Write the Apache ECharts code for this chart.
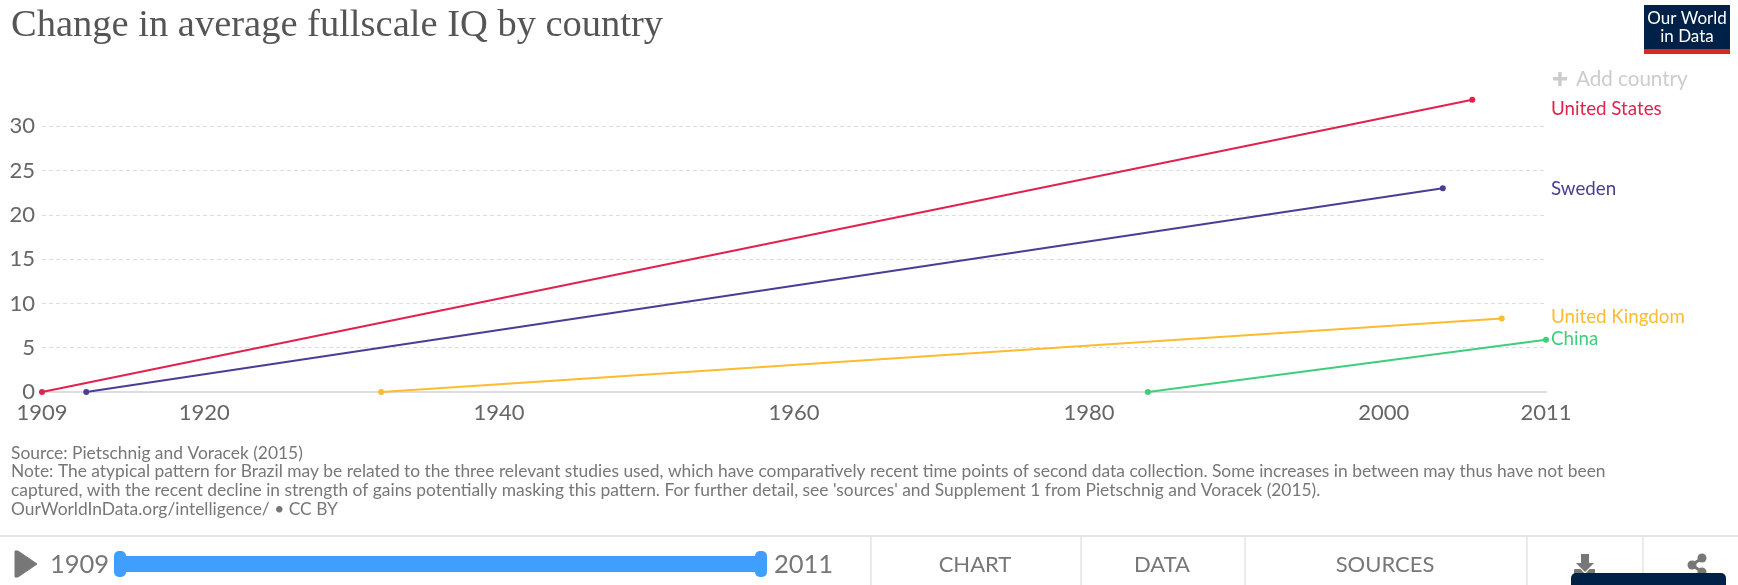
<!DOCTYPE html>
<html>
<head>
<meta charset="utf-8">
<title>Change in average fullscale IQ by country</title>
<script src="https://cdn.jsdelivr.net/npm/echarts@6/dist/echarts.min.js"></script>
<style>
  html, body { margin: 0; padding: 0; background: #fff; }
  #chart { width: 1738px; height: 585px; }
</style>
</head>
<body>
<div id="chart"></div>
<script>
const xTicks = [1909, 1920, 1940, 1960, 1980, 2000, 2011]
const yTicks = [0, 5, 10, 15, 20, 25, 30]

const unitedStates = [[1909, 0], [2006, 33]]
const sweden = [[1912, 0], [2004, 23]]
const unitedKingdom = [[1932, 0], [2008, 8.3]]
const china = [[1984, 0], [2011, 5.9]]

const titleText = 'Change in average fullscale IQ by country'
const noteLines = [
  'Source: Pietschnig and Voracek (2015)',
  'Note: The atypical pattern for Brazil may be related to the three relevant studies used, which have comparatively recent time points of second data collection. Some increases in between may thus have not been',
  'captured, with the recent decline in strength of gains potentially masking this pattern. For further detail, see \'sources\' and Supplement 1 from Pietschnig and Voracek (2015).',
  'OurWorldInData.org/intelligence/ • CC BY'
]
const tabs = ['CHART', 'DATA', 'SOURCES']

const colors = { us: '#e0224e', sweden: '#4c3d94', uk: '#fdbb30', china: '#3fcf7c' }
const grey = '#777'

function lineSeries(name, data, color) {
  return {
    name: name,
    type: 'line',
    data: data,
    symbol: 'circle',
    symbolSize: 6,
    showSymbol: true,
    clip: false,
    silent: true,
    animation: false,
    lineStyle: { width: 2.2, color: color },
    itemStyle: { color: color }
  }
}

function label(x, y, text, font, fill, align) {
  return {
    type: 'text',
    x: x,
    y: y,
    silent: true,
    style: { text: text, font: font, fill: fill, textAlign: align || 'left', textVerticalAlign: 'middle' }
  }
}

function rect(x, y, w, h, fill, r) {
  return { type: 'rect', silent: true, shape: { x: x, y: y, width: w, height: h, r: r || 0 }, style: { fill: fill } }
}

function vline(x) {
  return { type: 'line', silent: true, shape: { x1: x, y1: 536, x2: x, y2: 585 }, style: { stroke: '#e4e4e4', lineWidth: 1.5 } }
}

const graphics = [
  label(11, 26, titleText, '38.5px "Liberation Serif"', '#555'),

  // logo
  rect(1644, 5, 86, 49, '#002147'),
  rect(1644, 49, 86, 5, '#d42b21'),
  label(1687, 19, 'Our World', '17px Lato', '#fff', 'center'),
  label(1687, 37, 'in Data', '17px Lato', '#fff', 'center'),

  // add country + line labels
  rect(1553, 77, 14, 3.5, '#ccc'),
  rect(1558.2, 72, 3.5, 14, '#ccc'),
  label(1576, 79, 'Add country', '20.6px Lato', '#ccc'),
  label(1551, 109, 'United States', '18.75px Lato', colors.us),
  label(1551, 189, 'Sweden', '18.75px Lato', colors.sweden),
  label(1551, 317, 'United Kingdom', '18.75px Lato', colors.uk),
  label(1551, 339, 'China', '18.75px Lato', colors.china),

  // footer
  { type: 'line', silent: true, shape: { x1: 0, y1: 536, x2: 1738, y2: 536 }, style: { stroke: '#e4e4e4', lineWidth: 2 } },
  { type: 'polygon', silent: true, shape: { points: [[15, 551], [18, 551], [37, 564], [18, 577], [15, 577]] }, style: { fill: '#777', stroke: '#777', lineWidth: 1, lineJoin: 'round' } },
  label(50, 565, String(xTicks[0]), '25.5px Lato', grey),
  rect(120, 556, 640, 16, '#409eff'),
  rect(114, 551, 12, 26, '#409eff', 5),
  rect(755, 551, 12, 26, '#409eff', 5),
  label(774, 565, String(xTicks[xTicks.length - 1]), '25.5px Lato', grey),
  vline(871),
  vline(1081),
  vline(1245),
  vline(1527),
  vline(1643),
  label(975, 565, tabs[0], '22px Lato', grey, 'center'),
  label(1162, 565, tabs[1], '22px Lato', grey, 'center'),
  label(1385, 565, tabs[2], '22px Lato', grey, 'center'),

  // download icon
  rect(1574, 569, 21, 8, '#777', 1),
  { type: 'polygon', silent: true, shape: { points: [[1574, 562], [1596, 562], [1585, 574]] }, style: { fill: '#fff' } },
  rect(1581, 554, 8, 10, '#777'),
  { type: 'polygon', silent: true, shape: { points: [[1576, 563], [1594, 563], [1585, 572]] }, style: { fill: '#777' } },

  // share icon
  { type: 'polyline', silent: true, shape: { points: [[1702, 558], [1692, 565], [1702, 572]] }, style: { stroke: '#777', lineWidth: 3, fill: 'none' } },
  { type: 'circle', silent: true, shape: { cx: 1702, cy: 558, r: 4.5 }, style: { fill: '#777' } },
  { type: 'circle', silent: true, shape: { cx: 1692, cy: 565, r: 4.5 }, style: { fill: '#777' } },
  { type: 'circle', silent: true, shape: { cx: 1702, cy: 572, r: 4.5 }, style: { fill: '#777' } },

  // dark box in the corner
  rect(1571, 573, 155, 20, '#002147', 5)
]

// footnote
noteLines.forEach((line, i) => {
  graphics.push(label(11, 453 + i * 18.7, line, '17.4px Lato', grey))
})

const chart = echarts.init(document.getElementById('chart'), null, { renderer: 'canvas' })
chart.setOption({
  animation: false,
  backgroundColor: '#fff',
  grid: { left: 42, width: 1504, top: 82, height: 310, containLabel: false },
  xAxis: {
    type: 'value',
    min: 1909,
    max: 2011,
    axisLine: { show: true, lineStyle: { color: '#ddd', width: 2 } },
    axisTick: { show: false, customValues: xTicks },
    axisLabel: {
      customValues: xTicks,
      formatter: value => String(value),
      color: '#666',
      fontFamily: 'Lato',
      fontSize: 22,
      margin: 10,
      showMinLabel: true,
      showMaxLabel: true
    },
    splitLine: { show: false }
  },
  yAxis: {
    type: 'value',
    min: 0,
    max: 35,
    axisLine: { show: false },
    axisTick: { show: false, customValues: yTicks },
    axisLabel: {
      customValues: yTicks,
      color: '#666',
      fontFamily: 'Lato',
      fontSize: 22,
      margin: 7
    },
    splitLine: { show: true, lineStyle: { color: '#ddd', type: [4, 3], width: 1 } }
  },
  series: [
    lineSeries('United States', unitedStates, colors.us),
    lineSeries('Sweden', sweden, colors.sweden),
    lineSeries('United Kingdom', unitedKingdom, colors.uk),
    lineSeries('China', china, colors.china)
  ],
  graphic: { elements: graphics }
})
</script>
</body>
</html>
